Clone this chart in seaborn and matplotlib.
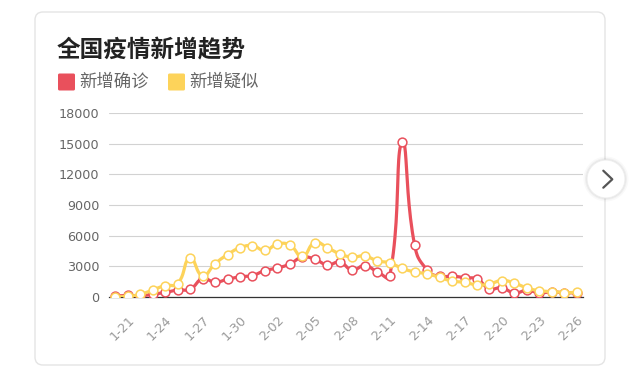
import numpy as np
import pandas as pd
import matplotlib
matplotlib.use("Agg")
import matplotlib.pyplot as plt
import seaborn as sns
from matplotlib.patches import FancyBboxPatch, Circle
from matplotlib.lines import Line2D

# ---------------- data ----------------
dates = ["1-20", "1-21", "1-22", "1-23", "1-24", "1-25", "1-26", "1-27", "1-28", "1-29",
         "1-30", "1-31", "2-01", "2-02", "2-03", "2-04", "2-05", "2-06", "2-07", "2-08",
         "2-09", "2-10", "2-11", "2-12", "2-13", "2-14", "2-15", "2-16", "2-17", "2-18",
         "2-19", "2-20", "2-21", "2-22", "2-23", "2-24", "2-25", "2-26"]
confirmed = [77, 149, 131, 259, 444, 688, 769, 1771, 1459, 1737,
             1982, 2102, 2590, 2829, 3235, 3887, 3694, 3143, 3399, 2656,
             3062, 2478, 2015, 15152, 5090, 2641, 2009, 2048, 1886, 1749,
             820, 889, 397, 648, 409, 508, 406, 433]
suspected = [27, 60, 257, 680, 1118, 1309, 3806, 2077, 3248, 4148,
             4812, 5019, 4562, 5173, 5072, 3971, 5328, 4833, 4214, 3916,
             4008, 3536, 3342, 2807, 2450, 2277, 1918, 1563, 1432, 1185,
             1277, 1614, 1361, 882, 620, 530, 439, 452]
series_names = ["新增确诊", "新增疑似"]
yticks = [0, 3000, 6000, 9000, 12000, 15000, 18000]
title = "全国疫情新增趋势"

RED = "#e9505c"
YEL = "#fdd35a"
CJK = ["Noto Sans CJK SC", "DejaVu Sans"]

sns.set_theme(style="white")
plt.rcParams["font.family"] = CJK

W, H = 640, 377
fig = plt.figure(figsize=(W / 100, H / 100), dpi=100)
fig.patch.set_facecolor("white")
T = fig.dpi_scale_trans


def P(x, y):
    return x / 100, (H - y) / 100


# card (behind the axes)
card = FancyBboxPatch(P(35, 365), 5.70, 3.53, boxstyle="round,pad=0,rounding_size=0.08",
                      transform=T, facecolor="white", edgecolor="#e4e4e4", lw=1.0, zorder=-5)
fig.patches.append(card)

# axes
x0, x1, yb, yt = 109, 583, 297, 113
ax = fig.add_axes([x0 / W, 1 - yb / H, (x1 - x0) / W, (yb - yt) / H])
ax.set_zorder(1)
ax.set_facecolor("none")


def smooth_curve(vals, smooth=0.5, n=24):
    # echarts-like bezier smoothing computed in pixel space
    sx = (x1 - x0) / len(dates)
    sy = (yb - yt) / 18000
    pts = np.array([[i * sx, v * sy] for i, v in enumerate(vals)], dtype=float)
    m = len(pts)
    cps = []
    for i in range(m):
        p = pts[i]
        if i == 0 or i == m - 1:
            cps.append((p.copy(), p.copy()))
            continue
        prv, nxt = pts[i - 1], pts[i + 1]
        v = (nxt - prv) * smooth
        d0 = np.linalg.norm(p - prv)
        d1 = np.linalg.norm(p - nxt)
        s = d0 + d1
        if s:
            d0 /= s
            d1 /= s
        cps.append((p - v * d0, p + v * d1))
    xs, ys = [], []
    t = np.linspace(0, 1, n)
    for i in range(m - 1):
        a, b = pts[i], pts[i + 1]
        c1, c2 = cps[i][1], cps[i + 1][0]
        seg = ((1 - t) ** 3)[:, None] * a + (3 * (1 - t) ** 2 * t)[:, None] * c1 + \
              (3 * (1 - t) * t ** 2)[:, None] * c2 + (t ** 3)[:, None] * b
        if i > 0:
            seg = seg[1:]
        xs.extend(seg[:, 0] / sx)
        ys.extend(seg[:, 1] / sy)
    return np.array(xs), np.array(ys)


idx = np.arange(len(dates))
for vals, col, z in [(confirmed, RED, 3), (suspected, YEL, 5)]:
    sxs, sys_ = smooth_curve(vals)
    sm = pd.DataFrame({"x": sxs, "y": sys_})
    sns.lineplot(data=sm, x="x", y="y", sort=False, estimator=None, ax=ax,
                 color=col, lw=2.3, zorder=z, solid_capstyle="round")
    pts = pd.DataFrame({"x": idx, "y": vals})
    sns.scatterplot(data=pts, x="x", y="y", ax=ax, s=40, facecolor="white",
                    edgecolor=col, linewidth=1.1, zorder=z + 1)

ax.set_xlim(-0.5, len(dates) - 0.5)
ax.set_ylim(0, 18000)
ax.set_xlabel("")
ax.set_ylabel("")
ax.set_yticks(yticks)
ax.set_yticklabels([str(v) for v in yticks], family="DejaVu Sans")
ax.set_xticks(idx[1::3])
ax.set_xticklabels([dates[i] for i in idx[1::3]], rotation=45, ha="right",
                   rotation_mode="anchor", family="DejaVu Sans")
ax.tick_params(axis="y", length=0, pad=7, labelsize=9.2, labelcolor="#666666")
ax.tick_params(axis="x", length=0, pad=12, labelsize=9.2, labelcolor="#9a9a9a")
ax.yaxis.grid(True, color="#d2d2d2", lw=0.8)
ax.xaxis.grid(False)
ax.set_axisbelow(True)
for s in ["left", "right", "top"]:
    ax.spines[s].set_visible(False)
ax.spines["bottom"].set_color("#333333")
ax.spines["bottom"].set_linewidth(0.9)
ax.spines["bottom"].set_zorder(2)

# title
fig.text(*P(57, 50), title, transform=T, fontsize=17, weight="bold", color="#222222",
         va="center", ha="left", family=CJK)

# legend
for (lx, tx), name, col in zip([(58, 79), (168, 189)], series_names, [RED, YEL]):
    sq = FancyBboxPatch(P(lx, 90.5), 0.17, 0.17, boxstyle="round,pad=0,rounding_size=0.015",
                        transform=T, facecolor=col, edgecolor="none", mutation_aspect=1)
    fig.patches.append(sq)
    fig.text(*P(tx, 82), name, transform=T, fontsize=12.5, color="#666666",
             va="center", ha="left", family=CJK)

# right arrow button
cx, cy = P(606, 179)
for r, a in [(0.225, 0.025), (0.21, 0.04), (0.198, 0.06)]:
    fig.patches.append(Circle((cx, cy), r, transform=T, facecolor="#000000", alpha=a,
                              edgecolor="none", zorder=5))
fig.patches.append(Circle((cx, cy), 0.19, transform=T, facecolor="white",
                          edgecolor="#eeeeee", lw=0.8, zorder=6))
ax0, ay0 = P(603.3, 170.7)
ax1_, ay1 = P(612.3, 179.3)
ax2, ay2 = P(603.3, 187.7)
fig.lines.append(Line2D([ax0, ax1_, ax2], [ay0, ay1, ay2], transform=T, color="#555555",
                        lw=1.6, solid_capstyle="round", solid_joinstyle="round", zorder=7))

fig.savefig("out.png", dpi=100, facecolor="white")
